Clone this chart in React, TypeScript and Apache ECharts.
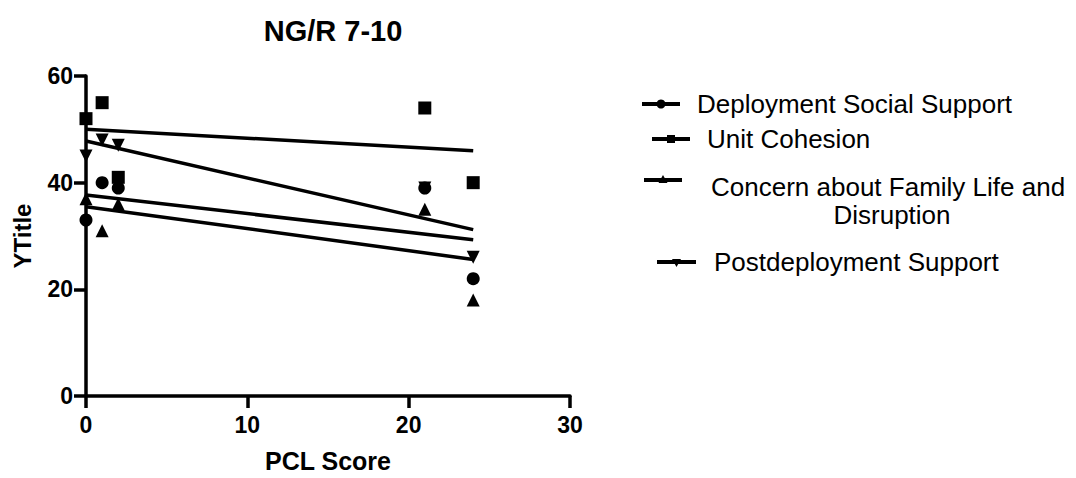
import React, { useEffect, useRef } from "react";
import * as echarts from "echarts";

const titleText = "NG/R 7-10";
const xTitle = "PCL Score";
const yTitle = "YTitle";
const xTicks = [0, 10, 20, 30];
const yTicks = [0, 20, 40, 60];

const seriesNames = [
  "Deployment Social Support",
  "Unit Cohesion",
  "Concern about Family Life and Disruption",
  "Postdeployment Support",
];

const dssX = [0, 1, 2, 21, 24];
const dssY = [33, 40, 39, 39, 22];
const ucX = [0, 1, 2, 21, 24];
const ucY = [52, 55, 41, 54, 40];
const cfX = [0, 1, 2, 21, 24];
const cfY = [37, 31, 36, 35, 18];
const pdX = [0, 1, 2, 21, 24];
const pdY = [45, 48, 47, 39, 26];

// fitted line end values at x = 0 and x = 24
const fitX = [0, 24];
const dssFit = [37.7, 29.3];
const ucFit = [50, 46];
const cfFit = [35.5, 25.6];
const pdFit = [47.8, 31.2];

const FONT = "'Liberation Sans', Arial, Helvetica, sans-serif";

function pairs(xs: number[], ys: number[]) {
  return xs.map((x, i) => [x, ys[i]]);
}

export default function App() {
  const ref = useRef<HTMLDivElement>(null);
  useEffect(() => {
    if (!ref.current) return;
    const chart = echarts.init(ref.current, undefined, { renderer: "svg" });
    const groups = [
      { name: seriesNames[3], xs: pdX, ys: pdY, fit: pdFit, symbol: "triangle", rot: 180, z: 3 },
      { name: seriesNames[2], xs: cfX, ys: cfY, fit: cfFit, symbol: "triangle", rot: 0, z: 3 },
      { name: seriesNames[0], xs: dssX, ys: dssY, fit: dssFit, symbol: "circle", rot: 0, z: 4 },
      { name: seriesNames[1], xs: ucX, ys: ucY, fit: ucFit, symbol: "rect", rot: 0, z: 5 },
    ];
    const series: any[] = [];
    groups.forEach((g) => {
      series.push({
        type: "scatter",
        name: g.name,
        data: pairs(g.xs, g.ys),
        symbol: g.symbol,
        symbolRotate: g.rot,
        symbolSize: 13,
        itemStyle: { color: "#000", opacity: 1 },
        z: g.z,
      });
      series.push({
        type: "line",
        name: g.name + " fit",
        data: pairs(fitX, g.fit),
        symbol: "none",
        lineStyle: { color: "#000", width: 3.5 },
        z: 2,
      });
    });

    const legendItems = [
      { x1: 642, x2: 680, y: 104, sym: "circle", tx: 697, ty: 104, text: "Deployment Social Support" },
      { x1: 652, x2: 690, y: 139, sym: "rect", tx: 707, ty: 139, text: "Unit Cohesion" },
      { x1: 644, x2: 682, y: 180, sym: "tri", tx: 711, ty: 187, text: "Concern about Family Life and" },
      { x1: 657, x2: 696, y: 262, sym: "dtri", tx: 714, ty: 262, text: "Postdeployment Support" },
    ];
    const graphics: any[] = [];
    legendItems.forEach((it) => {
      graphics.push({
        type: "line",
        shape: { x1: it.x1, y1: it.y, x2: it.x2, y2: it.y },
        style: { stroke: "#000", lineWidth: 4 },
      });
      const cx = (it.x1 + it.x2) / 2;
      if (it.sym === "circle") {
        graphics.push({ type: "circle", shape: { cx, cy: it.y, r: 4.5 }, style: { fill: "#000" } });
      } else if (it.sym === "rect") {
        graphics.push({ type: "rect", shape: { x: cx - 4, y: it.y - 4, width: 8, height: 8 }, style: { fill: "#000" } });
      } else if (it.sym === "tri") {
        graphics.push({
          type: "polygon",
          shape: { points: [[cx, it.y - 5], [cx - 4.5, it.y + 3], [cx + 4.5, it.y + 3]] },
          style: { fill: "#000" },
        });
      } else {
        graphics.push({
          type: "polygon",
          shape: { points: [[cx, it.y + 5], [cx - 4.5, it.y - 3], [cx + 4.5, it.y - 3]] },
          style: { fill: "#000" },
        });
      }
      graphics.push({
        type: "text",
        x: it.tx,
        y: it.ty,
        style: {
          text: it.text,
          fill: "#000",
          font: `26px ${FONT}`,
          textAlign: "left",
          textVerticalAlign: "middle",
        },
      });
    });
    graphics.push({
      type: "text",
      x: 892,
      y: 215,
      style: {
        text: "Disruption",
        fill: "#000",
        font: `26px ${FONT}`,
        textAlign: "center",
        textVerticalAlign: "middle",
      },
    });

    chart.setOption({
      animation: false,
      backgroundColor: "#fff",
      title: {
        text: titleText,
        left: 328,
        top: 11,
        textAlign: "center",
        textStyle: { color: "#000", fontSize: 29, fontWeight: "bold", fontFamily: FONT },
      },
      grid: { left: 86, right: 506, top: 76, bottom: 78, containLabel: false },
      xAxis: {
        type: "value",
        min: 0,
        max: 30,
        interval: 10,
        name: xTitle,
        nameLocation: "middle",
        nameGap: 52,
        nameTextStyle: { color: "#000", fontSize: 25, fontWeight: "bold", fontFamily: FONT },
        axisLine: { show: true, onZero: false, lineStyle: { color: "#000", width: 3.5 } },
        axisTick: { show: true, length: 12, lineStyle: { color: "#000", width: 3.5 } },
        axisLabel: {
          color: "#000",
          fontSize: 23,
          fontWeight: "bold",
          fontFamily: FONT,
          margin: 17,
          formatter: (v: number) => (xTicks.includes(v) ? String(v) : ""),
        },
        splitLine: { show: false },
      },
      yAxis: {
        type: "value",
        min: 0,
        max: 60,
        interval: 20,
        name: yTitle,
        nameLocation: "middle",
        nameGap: 52,
        nameRotate: 90,
        nameTextStyle: { color: "#000", fontSize: 24, fontWeight: "bold", fontFamily: FONT },
        axisLine: { show: true, onZero: false, lineStyle: { color: "#000", width: 3.5 } },
        axisTick: { show: true, length: 12, lineStyle: { color: "#000", width: 3.5 } },
        axisLabel: {
          color: "#000",
          fontSize: 23,
          fontWeight: "bold",
          fontFamily: FONT,
          margin: 13,
          formatter: (v: number) => (yTicks.includes(v) ? String(v) : ""),
        },
        splitLine: { show: false },
      },
      series,
      graphic: graphics,
    });
    return () => chart.dispose();
  }, []);
  return (
    <div
      ref={ref}
      style={{ position: "fixed", left: 0, top: 0, width: "1076px", height: "478px", background: "#fff" }}
    />
  );
}
